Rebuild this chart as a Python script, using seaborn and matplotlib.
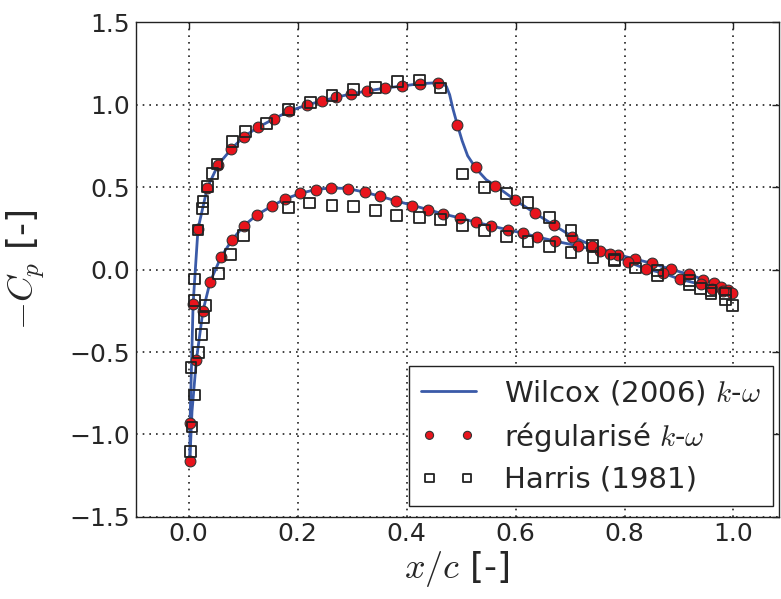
import numpy as np
import pandas as pd
import matplotlib
matplotlib.use("Agg")
import matplotlib.pyplot as plt
import seaborn as sns

# Wilcox (2006) k-omega : ligne continue (extrados / intrados)
wilcox_x_up = [0.002, 0.0024, 0.008, 0.017, 0.034, 0.054, 0.078, 0.101, 0.127, 0.156, 0.184, 0.217,
               0.244, 0.270, 0.298, 0.328, 0.360, 0.392, 0.425, 0.457, 0.466, 0.473, 0.479, 0.485,
               0.493, 0.502, 0.512, 0.528, 0.546, 0.563, 0.599, 0.635, 0.670, 0.704, 0.741, 0.788,
               0.820, 0.850, 0.884, 0.919, 0.945, 0.965, 0.977, 0.990, 0.998]
wilcox_cp_up = [-1.16, -0.93, -0.21, 0.246, 0.495, 0.636, 0.730, 0.806, 0.862, 0.913, 0.960, 0.998,
                1.022, 1.044, 1.065, 1.083, 1.100, 1.113, 1.127, 1.133, 1.130, 1.110, 1.060, 0.975,
                0.879, 0.780, 0.690, 0.610, 0.545, 0.509, 0.422, 0.343, 0.270, 0.200, 0.145, 0.090,
                0.063, 0.038, 0.003, -0.030, -0.061, -0.083, -0.103, -0.123, -0.141]
wilcox_x_lo = [0.002, 0.006, 0.014, 0.026, 0.039, 0.059, 0.080, 0.101, 0.125, 0.152, 0.177, 0.205,
               0.233, 0.262, 0.292, 0.323, 0.352, 0.381, 0.410, 0.439, 0.467, 0.498, 0.527, 0.555,
               0.586, 0.614, 0.640, 0.673, 0.714, 0.755, 0.774, 0.806, 0.839, 0.871, 0.901, 0.940,
               0.961, 0.980, 0.998]
wilcox_cp_lo = [-1.16, -0.86, -0.55, -0.253, -0.077, 0.075, 0.182, 0.265, 0.331, 0.384, 0.428, 0.462,
                0.485, 0.495, 0.491, 0.469, 0.444, 0.416, 0.390, 0.364, 0.337, 0.313, 0.287, 0.265,
                0.241, 0.220, 0.198, 0.172, 0.144, 0.111, 0.095, 0.048, 0.004, -0.022, -0.058, -0.090,
                -0.117, -0.130, -0.148]

# k-omega régularisé : points
reg_x = [0.002, 0.0024, 0.008, 0.017, 0.034, 0.054, 0.078, 0.101, 0.127, 0.156, 0.184, 0.217,
         0.244, 0.270, 0.298, 0.328, 0.360, 0.392, 0.425, 0.457, 0.493, 0.528, 0.563, 0.599,
         0.635, 0.670, 0.704, 0.741, 0.788, 0.820, 0.850, 0.885, 0.919, 0.945, 0.965, 0.977,
         0.990, 0.998,
         0.014, 0.026, 0.039, 0.059, 0.080, 0.101, 0.125, 0.152, 0.177, 0.205, 0.233, 0.262,
         0.292, 0.323, 0.352, 0.381, 0.410, 0.439, 0.467, 0.498, 0.527, 0.555, 0.586, 0.614,
         0.640, 0.673, 0.714, 0.755, 0.774, 0.806, 0.839, 0.871, 0.901, 0.940, 0.961, 0.980]
reg_cp = [-1.16, -0.93, -0.21, 0.246, 0.495, 0.636, 0.730, 0.806, 0.862, 0.913, 0.960, 0.998,
          1.022, 1.044, 1.065, 1.083, 1.100, 1.113, 1.127, 1.133, 0.879, 0.620, 0.509, 0.422,
          0.343, 0.270, 0.200, 0.145, 0.091, 0.065, 0.038, 0.004, -0.030, -0.061, -0.083, -0.103,
          -0.123, -0.141,
          -0.55, -0.253, -0.077, 0.075, 0.182, 0.265, 0.331, 0.384, 0.428, 0.462, 0.485, 0.495,
          0.491, 0.469, 0.444, 0.416, 0.388, 0.364, 0.337, 0.313, 0.287, 0.265, 0.241, 0.220,
          0.198, 0.172, 0.144, 0.111, 0.095, 0.048, 0.004, -0.022, -0.058, -0.090, -0.117, -0.130]

# Harris (1981) : mesures
harris_x = [0.003, 0.006, 0.010, 0.011, 0.011, 0.017, 0.025, 0.026, 0.034, 0.043, 0.052, 0.080,
            0.104, 0.143, 0.183, 0.223, 0.263, 0.302, 0.343, 0.383, 0.423, 0.462, 0.502, 0.543,
            0.583, 0.623, 0.662, 0.702, 0.741, 0.782, 0.860, 0.919, 0.940, 0.959, 0.985,
            0.004, 0.018, 0.023, 0.028, 0.031, 0.054, 0.077, 0.101, 0.183, 0.222, 0.263, 0.303,
            0.343, 0.382, 0.424, 0.462, 0.502, 0.543, 0.583, 0.623, 0.662, 0.702, 0.742, 0.782,
            0.820, 0.860, 0.919, 0.959, 0.985, 0.998]
harris_cp = [-1.103, -0.955, -0.760, -0.188, -0.057, 0.240, 0.368, 0.414, 0.505, 0.584, 0.640, 0.776,
             0.835, 0.887, 0.972, 1.012, 1.055, 1.093, 1.105, 1.141, 1.150, 1.101, 0.580, 0.499,
             0.463, 0.408, 0.317, 0.236, 0.145, 0.055, -0.006, -0.067, -0.117, -0.127, -0.147,
             -0.592, -0.501, -0.396, -0.289, -0.218, -0.026, 0.089, 0.206, 0.374, 0.404, 0.388, 0.384,
             0.358, 0.327, 0.315, 0.303, 0.267, 0.236, 0.202, 0.170, 0.141, 0.105, 0.075, 0.061,
             0.010, -0.036, -0.091, -0.147, -0.184, -0.218]

sns.set_style("white")
plt.rcParams['font.family'] = ['DejaVu Sans']
plt.rcParams['mathtext.fontset'] = 'cm'
plt.rcParams['xtick.direction'] = 'in'
plt.rcParams['ytick.direction'] = 'in'

fig, ax = plt.subplots(figsize=(7.81, 5.99), dpi=100)
fig.subplots_adjust(left=0.174, right=0.997, top=0.963, bottom=0.137)

blue = '#3a5aa8'
sns.lineplot(x=wilcox_x_up, y=wilcox_cp_up, sort=False, estimator=None, color=blue, lw=2,
             label='Wilcox (2006) $k$-$\\omega$', ax=ax)
sns.lineplot(x=wilcox_x_lo, y=wilcox_cp_lo, sort=False, estimator=None, color=blue, lw=2,
             label='_nolegend_', ax=ax)
sns.scatterplot(x=reg_x, y=reg_cp, marker='o', s=60, color='#e8141c', edgecolor='#333333',
                linewidth=0.8, label='régularisé $k$-$\\omega$', ax=ax, zorder=3)
sns.scatterplot(x=harris_x, y=harris_cp, marker='s', s=60, facecolor='none', edgecolor='#222222',
                linewidth=1.3, label='Harris (1981)', ax=ax, zorder=4)

ax.set_xlim(-0.097, 1.083)
ax.set_ylim(-1.5, 1.5)
ax.set_xticks([0.0, 0.2, 0.4, 0.6, 0.8, 1.0])
ax.set_yticks([-1.5, -1.0, -0.5, 0.0, 0.5, 1.0, 1.5])
ax.tick_params(labelsize=18, length=5, width=1, top=True, right=True, color='#222222', pad=4)
ax.grid(True, color='#222222', linestyle=(0, (1, 3)), linewidth=1.2)
for sp in ax.spines.values():
    sp.set_color('#222222')
    sp.set_linewidth(1.0)

ax.set_xlabel('$x/c$ [-]', fontsize=26, labelpad=2)
ax.set_ylabel('$-C_p$ [-]', fontsize=26, labelpad=16)

leg = ax.legend(loc='lower right', bbox_to_anchor=(0.991, 0.022), borderaxespad=0,
                fontsize=21, scatterpoints=2, scatteryoffsets=[0.5], markerscale=0.75,
                fancybox=False, framealpha=1, handlelength=1.9, handletextpad=0.95,
                labelspacing=0.42, borderpad=0.42)
leg.get_frame().set_edgecolor('#222222')
leg.get_frame().set_linewidth(1.0)

fig.savefig('out.png', dpi=100)
